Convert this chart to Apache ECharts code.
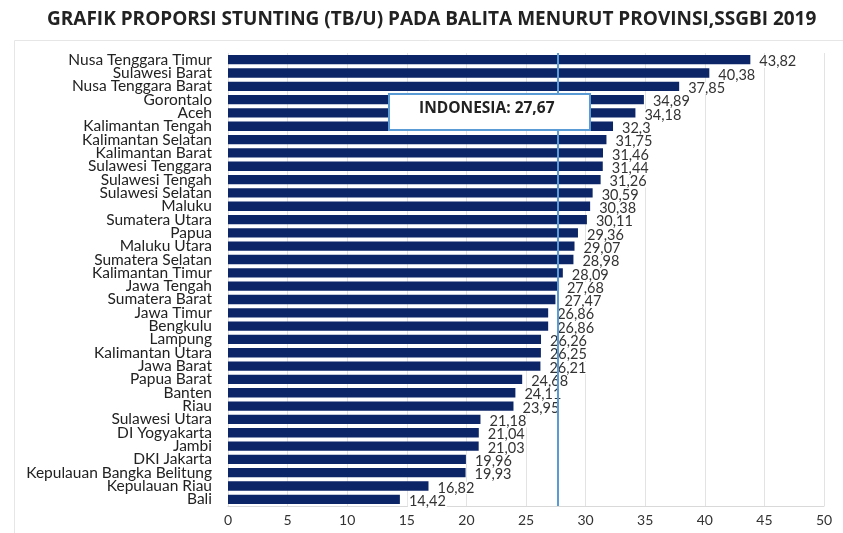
<!DOCTYPE html>
<html>
<head>
<meta charset="utf-8">
<script src="https://cdn.jsdelivr.net/npm/echarts@6/dist/echarts.min.js"></script>
<style>
  html, body { margin: 0; padding: 0; background: #fff; }
  #main { width: 843px; height: 533px; }
</style>
</head>
<body>
<div id="main"></div>
<script>
var provinsi = ['Nusa Tenggara Timur', 'Sulawesi Barat', 'Nusa Tenggara Barat', 'Gorontalo', 'Aceh',
    'Kalimantan Tengah', 'Kalimantan Selatan', 'Kalimantan Barat', 'Sulawesi Tenggara', 'Sulawesi Tengah',
    'Sulawesi Selatan', 'Maluku', 'Sumatera Utara', 'Papua', 'Maluku Utara', 'Sumatera Selatan',
    'Kalimantan Timur', 'Jawa Tengah', 'Sumatera Barat', 'Jawa Timur', 'Bengkulu', 'Lampung',
    'Kalimantan Utara', 'Jawa Barat', 'Papua Barat', 'Banten', 'Riau', 'Sulawesi Utara', 'DI Yogyakarta',
    'Jambi', 'DKI Jakarta', 'Kepulauan Bangka Belitung', 'Kepulauan Riau', 'Bali'];
var stunting = [43.82, 40.38, 37.85, 34.89, 34.18, 32.3, 31.75, 31.46, 31.44, 31.26,
    30.59, 30.38, 30.11, 29.36, 29.07, 28.98, 28.09, 27.68, 27.47, 26.86, 26.86, 26.26,
    26.25, 26.21, 24.68, 24.11, 23.95, 21.18, 21.04, 21.03, 19.96, 19.93, 16.82, 14.42];
var nasional = 27.67;

var chart = echarts.init(document.getElementById('main'));

// koma sebagai pemisah desimal
function koma(v) {
    return String(v).replace('.', ',');
}

var option = {
    backgroundColor: '#fff',
    title: {
        text: 'GRAFIK PROPORSI STUNTING (TB/U) PADA BALITA MENURUT PROVINSI,SSGBI 2019',
        left: 42,
        top: 5,
        textStyle: {
            fontFamily: 'Open Sans',
            fontSize: 19,
            fontWeight: 'bold',
            color: '#222'
        }
    },
    grid: {
        left: 228,
        right: 19,
        top: 53,
        bottom: 27
    },
    xAxis: {
        type: 'value',
        min: 0,
        max: 50,
        interval: 5,
        axisLine: { show: true, lineStyle: { color: '#d9d9d9' } },
        axisTick: { show: false },
        splitLine: { lineStyle: { color: '#e3e3e3' } },
        axisLabel: {
            fontFamily: 'Lato',
            fontSize: 14,
            color: '#333',
            margin: 7
        }
    },
    yAxis: {
        type: 'category',
        data: provinsi,
        inverse: true,
        axisLine: { show: false },
        axisTick: { show: false },
        axisLabel: {
            fontFamily: 'Lato',
            fontSize: 15.5,
            color: '#222',
            margin: 16,
            interval: 0
        }
    },
    series: [{
        type: 'bar',
        data: stunting,
        barWidth: '70%',
        itemStyle: { color: '#0c2566' },
        label: {
            show: true,
            position: 'right',
            distance: 8,
            offset: [0, 2],
            fontFamily: 'Lato',
            fontSize: 14.5,
            color: '#333',
            backgroundColor: '#fff',
            padding: [0, 1],
            lineHeight: 12,
            formatter: function (p) { return koma(p.value); }
        },
        markLine: {
            silent: true,
            symbol: 'none',
            label: { show: false },
            lineStyle: { color: '#5b9bd5', width: 2, type: 'solid' },
            data: [{ xAxis: nasional }]
        }
    }],
    graphic: [
        {
            type: 'rect',
            left: 12,
            top: 38,
            shape: { width: 840, height: 500 },
            style: { fill: 'none', stroke: '#e6e6e6', lineWidth: 1 },
            z: -1
        },
        {
            type: 'rect',
            left: 388,
            top: 93,
            shape: { width: 201, height: 36 },
            style: { fill: '#fff', stroke: '#5b9bd5', lineWidth: 2 },
            zlevel: 1,
            z: 100
        },
        {
            type: 'text',
            left: 419,
            top: 101,
            style: {
                text: 'INDONESIA: ' + koma(nasional),
                fontFamily: 'Open Sans',
                fontSize: 15.5,
                fontWeight: 'bold',
                fill: '#222'
            },
            zlevel: 1,
            z: 101
        }
    ]
};

chart.setOption(option);
</script>
</body>
</html>
